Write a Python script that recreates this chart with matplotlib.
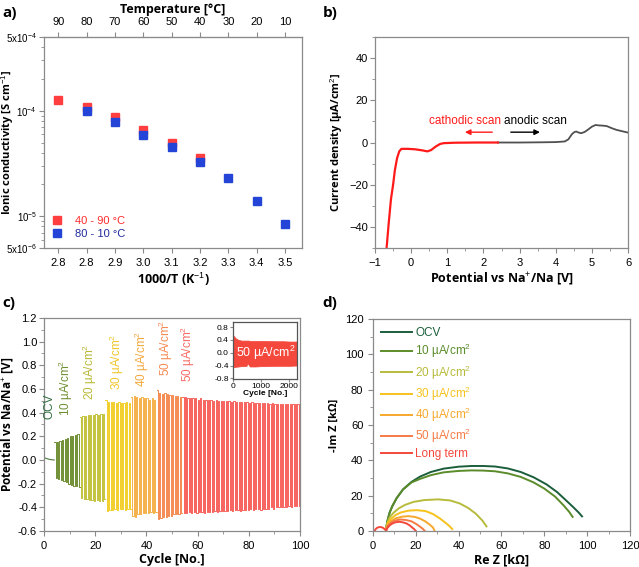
import numpy as np
import matplotlib.pyplot as plt
from matplotlib.ticker import MultipleLocator, NullFormatter, LogLocator

plt.rcParams['font.family'] = ['Liberation Sans', 'DejaVu Sans']
plt.rcParams['mathtext.fontset'] = 'custom'
plt.rcParams['mathtext.rm'] = 'Liberation Sans'
plt.rcParams['mathtext.bf'] = 'Liberation Sans:bold'
plt.rcParams['font.size'] = 8

############################################
# data
############################################
# a) ionic conductivity
a_xlabels = ['2.8', '2.8', '2.9', '3.0', '3.1', '3.2', '3.3', '3.4', '3.5']
a_temps = ['90', '80', '70', '60', '50', '40', '30', '20', '10']
heat_idx = [0, 1, 2, 3, 4, 5]
heat_sigma = [1.27e-4, 1.09e-4, 8.8e-5, 6.6e-5, 5.0e-5, 3.55e-5]
cool_idx = [1, 2, 3, 4, 5, 6, 7, 8]
cool_sigma = [1.0e-4, 7.8e-5, 5.9e-5, 4.5e-5, 3.25e-5, 2.3e-5, 1.39e-5, 8.4e-6]

# b) LSV
cat_E = [-0.68, -0.62, -0.56, -0.5, -0.45, -0.39, -0.33, -0.27, -0.1, 0.1, 0.3,
         0.45, 0.55, 0.68, 0.8, 0.9, 1.2, 1.8, 2.4]
cat_j = [-50, -38, -27, -20, -13, -7.4, -4.2, -3.0, -3.0, -3.2, -3.7,
         -4.2, -3.6, -1.9, -0.7, -0.3, -0.1, 0.0, 0.0]
ano_E = [2.4, 3.0, 3.6, 4.0, 4.25, 4.35, 4.45, 4.52, 4.57, 4.62, 4.7, 4.8,
         4.9, 5.0, 5.1, 5.2, 5.3, 5.41, 5.55, 5.68, 5.85, 6.0]
ano_j = [0.0, 0.0, 0.1, 0.2, 0.5, 1.5, 4.0, 5.0, 5.2, 4.8, 4.4, 5.0,
         6.2, 7.5, 8.3, 8.1, 8.0, 7.8, 6.8, 6.0, 5.3, 4.7]

# c) galvanostatic cycling, peak voltages per cycle
ocv_cyc = [0, 1, 2, 3, 4]
ocv_v = [0.02, 0.012, 0.006, 0.002, 0.0]
up_10 = [0.15, 0.15, 0.16, 0.17, 0.18, 0.19, 0.20, 0.20, 0.21, 0.22]
lo_10 = [-0.15, -0.16, -0.17, -0.18, -0.19, -0.20, -0.21, -0.22, -0.22, -0.23]
up_20 = [0.36, 0.37, 0.37, 0.38, 0.38, 0.38, 0.39, 0.38, 0.39, 0.39]
lo_20 = [-0.32, -0.33, -0.33, -0.34, -0.34, -0.35, -0.34, -0.35, -0.35, -0.33]
up_30 = [0.51, 0.49, 0.49, 0.49, 0.48, 0.49, 0.48, 0.48, 0.49, 0.48]
lo_30 = [-0.43, -0.42, -0.42, -0.41, -0.42, -0.41, -0.41, -0.42, -0.41, -0.41]
up_40 = [0.53, 0.54, 0.53, 0.52, 0.53, 0.52, 0.52, 0.51, 0.52, 0.51]
lo_40 = [-0.47, -0.48, -0.46, -0.46, -0.45, -0.45, -0.45, -0.44, -0.45, -0.44]
up_50 = [0.59, 0.57, 0.56, 0.57, 0.56, 0.55, 0.55, 0.54, 0.54, 0.53]
lo_50 = [-0.50, -0.49, -0.48, -0.48, -0.47, -0.47, -0.46, -0.46, -0.46, -0.45]
up_lt = [0.53, 0.53, 0.52, 0.52, 0.52, 0.52, 0.51, 0.52, 0.51, 0.51,
         0.51, 0.51, 0.50, 0.51, 0.50, 0.50, 0.50, 0.50, 0.50, 0.49,
         0.50, 0.49, 0.49, 0.49, 0.49, 0.49, 0.48, 0.49, 0.48, 0.48,
         0.48, 0.48, 0.48, 0.48, 0.47, 0.48, 0.47, 0.47, 0.47, 0.47,
         0.47, 0.47, 0.47, 0.47, 0.47, 0.47]
lo_lt = [-0.45, -0.45, -0.44, -0.45, -0.44, -0.45, -0.44, -0.44, -0.45, -0.44,
         -0.44, -0.44, -0.43, -0.44, -0.43, -0.43, -0.43, -0.43, -0.42, -0.43,
         -0.42, -0.42, -0.43, -0.42, -0.42, -0.42, -0.41, -0.42, -0.41, -0.41,
         -0.42, -0.41, -0.41, -0.41, -0.40, -0.41, -0.40, -0.40, -0.40, -0.40,
         -0.40, -0.39, -0.40, -0.39, -0.39, -0.39]
c_blocks = [(4, up_10, lo_10, '#6f8f34'),
            (14, up_20, lo_20, '#c4c23c'),
            (24, up_30, lo_30, '#f2cf2c'),
            (34, up_40, lo_40, '#f4b14a'),
            (44, up_50, lo_50, '#f58a52'),
            (54, up_lt, lo_lt, '#f7625c')]

# c) inset, long term envelope
ins_cyc = [0, 50, 100, 200, 300, 400, 480, 520, 560, 600, 800, 1000, 1200,
           1500, 1800, 2000, 2280]
ins_up = [0.55, 0.50, 0.45, 0.40, 0.38, 0.38, 0.38, 0.38, 0.38, 0.37, 0.37,
          0.37, 0.37, 0.36, 0.36, 0.35, 0.35]
ins_lo = [-0.45, -0.45, -0.44, -0.43, -0.42, -0.42, -0.41, -0.33, -0.38, -0.43,
          -0.43, -0.42, -0.42, -0.41, -0.41, -0.41, -0.40]

# d) EIS Nyquist
eis_labels = ['OCV', r'10 µA/cm$^2$', r'20 µA/cm$^2$', r'30 µA/cm$^2$',
              r'40 µA/cm$^2$', r'50 µA/cm$^2$', 'Long term']
eis_colors = ['#1b5e3b', '#5b8c2a', '#b7bb3b', '#f6c21c', '#f6a82c', '#f57b45', '#f4483c']
eis_re = [
    [6.2, 6.8, 7.8, 9.0, 11.0, 14.0, 18.0, 22.0, 27.0, 33.0, 40.0, 46.0, 51.4,
     57.0, 63.0, 69.0, 75.0, 81.0, 86.0, 90.0, 93.5, 96.0, 97.6],
    [6.2, 6.8, 7.8, 9.0, 11.0, 14.0, 18.0, 22.0, 27.0, 33.0, 40.0, 46.0, 51.4,
     57.0, 63.0, 69.0, 75.0, 80.0, 85.0, 89.0, 91.5, 93.2],
    [6.2, 6.8, 7.8, 9.5, 12.0, 15.0, 19.0, 24.0, 30.4, 36.0, 40.5, 44.5, 48.0, 51.0, 53.0],
    [6.2, 7.0, 8.5, 10.5, 13.0, 16.5, 20.3, 24.5, 28.0, 31.0, 33.5, 35.5, 37.0],
    [6.2, 7.0, 8.5, 10.5, 13.5, 16.4, 19.5, 22.0, 24.5, 26.5, 28.0, 28.8],
    [6.2, 7.0, 8.5, 10.1, 11.8, 13.2, 15.5, 17.9, 20.0, 21.8, 23.3, 24.2],
    [0.8, 1.2, 1.9, 2.8, 3.9, 4.8, 5.5, 6.2, 6.6, 7.8, 9.0, 10.1, 11.3, 12.5,
     14.0, 15.6, 17.0, 17.9, 19.2, 20.0],
]
eis_im = [
    [2.0, 6.0, 10.5, 14.0, 18.5, 23.5, 27.8, 30.8, 33.4, 35.3, 36.4, 36.8, 36.8,
     36.5, 35.4, 33.4, 30.4, 26.4, 22.0, 17.5, 13.5, 10.5, 8.3],
    [2.0, 6.0, 10.5, 14.0, 18.5, 23.5, 27.5, 29.5, 31.6, 33.2, 34.0, 34.3, 34.2,
     33.8, 32.6, 30.6, 27.5, 24.0, 19.5, 14.5, 11.0, 8.0],
    [2.0, 5.0, 7.8, 10.2, 12.8, 14.8, 16.5, 17.5, 17.9, 17.3, 15.6, 13.0, 9.8, 6.0, 2.6],
    [1.5, 4.5, 7.0, 9.0, 10.5, 11.5, 11.8, 11.3, 9.6, 7.3, 5.0, 3.0, 1.1],
    [1.0, 3.5, 5.6, 7.1, 8.1, 8.4, 8.0, 7.0, 5.4, 3.6, 2.0, 0.0],
    [1.0, 3.0, 4.8, 5.8, 6.3, 6.5, 6.2, 5.5, 4.1, 2.6, 1.2, 0.0],
    [0.0, 1.0, 1.8, 2.2, 2.2, 1.7, 1.0, 0.0, 1.5, 3.2, 4.2, 4.8, 5.1, 5.2,
     4.9, 4.3, 3.3, 2.4, 1.1, 0.0],
]

############################################
# helpers
############################################
spine_col = '#8a8a8a'
bold_family = ['Open Sans', 'DejaVu Sans']
label_font = dict(fontsize=9, fontweight='bold', family=bold_family)
ylab_font = dict(fontsize=8, fontweight='bold', family=bold_family)


def style_axes(ax):
    for s in ax.spines.values():
        s.set_color(spine_col)
        s.set_linewidth(0.9)
    ax.tick_params(which='both', direction='out', color=spine_col, labelsize=8)
    ax.tick_params(which='major', length=3.5)
    ax.tick_params(which='minor', length=2)


def square_wave(start, up, lo):
    xs, ys = [], []
    for i, (u, l) in enumerate(zip(up, lo)):
        x0 = start + i
        xs += [x0, x0 + 0.5, x0 + 0.5, x0 + 1]
        ys += [u, u, l, l]
    return xs, ys


fig = plt.figure(figsize=(6.39, 5.67), dpi=100)

############################################
# a) Arrhenius
############################################
ax_a = fig.add_axes([0.0689, 0.5626, 0.4037, 0.3721])
ax_a.plot(heat_idx, heat_sigma, 's', color='#ff3f3f', ms=5.5, label='40 - 90 °C')
ax_a.plot(cool_idx, cool_sigma, 's', color='#2344d6', ms=5.5, label='80 - 10 °C')
ax_a.set_yscale('log')
ax_a.set_ylim(5e-6, 5e-4)
ax_a.set_xlim(-0.5, 8.6)
ax_a.set_xticks(range(len(a_xlabels)))
ax_a.set_xticklabels(a_xlabels)
ax_a.set_yticks([5e-6, 1e-5, 1e-4, 5e-4])
ax_a.set_yticklabels([r'5x10$^{-6}$', r'10$^{-5}$', r'10$^{-4}$', r'5x10$^{-4}$'])
ax_a.yaxis.set_minor_locator(LogLocator(base=10, subs=np.arange(2, 10)))
ax_a.yaxis.set_minor_formatter(NullFormatter())
style_axes(ax_a)
ax_a.tick_params(axis='y', labelsize=7, pad=1.5)
top = ax_a.secondary_xaxis('top')
top.set_xticks(range(len(a_temps)))
top.set_xticklabels(a_temps)
top.tick_params(direction='out', color=spine_col, labelsize=8, length=3.5)
top.spines['top'].set_color(spine_col)
top.set_xlabel('Temperature [°C]', labelpad=3, **label_font)
ax_a.set_xlabel(r'1000/T (K$^{-1}$)', labelpad=2, **label_font)
ax_a.set_ylabel(r'Ionic conductivity [S cm$^{-1}$]', **ylab_font)
ax_a.yaxis.set_label_coords(-0.108, 0.5)
ax_a.legend(loc='lower left', frameon=False, fontsize=8, handlelength=0.8,
            handletextpad=1.2, labelspacing=0.25, borderaxespad=0.4,
            labelcolor=['#ff2a2a', '#1f2a9c'])

############################################
# b) LSV
############################################
ax_b = fig.add_axes([0.5869, 0.5626, 0.3959, 0.3721])
ax_b.plot(ano_E, ano_j, color='#505050', lw=1.3)
ax_b.plot(cat_E, cat_j, color='#ff1a1a', lw=1.6)
ax_b.set_xlim(-1, 6)
ax_b.set_ylim(-50, 50)
ax_b.xaxis.set_major_locator(MultipleLocator(1))
ax_b.xaxis.set_minor_locator(MultipleLocator(0.5))
ax_b.yaxis.set_major_locator(MultipleLocator(20))
ax_b.yaxis.set_minor_locator(MultipleLocator(10))
style_axes(ax_b)
ax_b.tick_params(axis='y', pad=1.5)
ax_b.annotate('', xy=(1.41, 4.9), xytext=(2.32, 4.9),
              arrowprops=dict(arrowstyle='-|>', color='#ff1a1a', lw=1, mutation_scale=8))
ax_b.annotate('', xy=(3.64, 4.9), xytext=(2.68, 4.9),
              arrowprops=dict(arrowstyle='-|>', color='black', lw=1, mutation_scale=8))
ax_b.text(1.48, 10.3, 'cathodic scan', color='#ff1a1a', fontsize=8.5, ha='center', va='center')
ax_b.text(3.44, 10.3, 'anodic scan', color='black', fontsize=8.5, ha='center', va='center')
ax_b.set_xlabel(r'Potential vs Na$^{+}$/Na [V]', labelpad=2, **label_font)
ax_b.set_ylabel(r'Current density [µA/cm$^{2}$]', **ylab_font)
ax_b.yaxis.set_label_coords(-0.12, 0.5)

############################################
# c) cycling
############################################
ax_c = fig.add_axes([0.0689, 0.0635, 0.4006, 0.3757])
ax_c.plot(ocv_cyc, ocv_v, color='#4f7a40', lw=0.8)
for start, up, lo, col in c_blocks:
    xs, ys = square_wave(start, up, lo)
    ax_c.plot(xs, ys, color=col, lw=0.7)
ax_c.set_xlim(0, 100)
ax_c.set_ylim(-0.6, 1.2)
ax_c.xaxis.set_major_locator(MultipleLocator(20))
ax_c.xaxis.set_minor_locator(MultipleLocator(10))
ax_c.yaxis.set_major_locator(MultipleLocator(0.2))
ax_c.yaxis.set_minor_locator(MultipleLocator(0.1))
ax_c.yaxis.set_major_formatter(lambda v, p: f'{v:.1f}')
style_axes(ax_c)
ax_c.tick_params(axis='y', pad=1.5)
c_notes = [(2.0, 0.35, 'OCV', '#2f6e3f'),
           (8.7, 0.37, r'10 µA/cm$^2$', '#6f8f34'),
           (17.9, 0.51, r'20 µA/cm$^2$', '#b9b835'),
           (28.3, 0.59, r'30 µA/cm$^2$', '#f0c62a'),
           (38.3, 0.62, r'40 µA/cm$^2$', '#f4a83e'),
           (47.5, 0.71, r'50 µA/cm$^2$', '#f58a52'),
           (56.3, 0.66, r'50 µA/cm$^2$', '#f76a64')]
for x, y, txt, col in c_notes:
    ax_c.text(x, y, txt, rotation=90, color=col, fontsize=8.5, ha='center', va='bottom')
ax_c.set_xlabel('Cycle [No.]', labelpad=2, **label_font)
ax_c.set_ylabel(r'Potential vs Na/Na$^{+}$ [V]', fontsize=8.5, fontweight='bold',
                family=bold_family)
ax_c.yaxis.set_label_coords(-0.112, 0.5)

# inset
ax_in = fig.add_axes([0.3646, 0.3316, 0.1002, 0.1005])
ax_in.fill_between(ins_cyc, ins_lo, ins_up, color='#f4483c', lw=0.5)
ax_in.set_xlim(0, 2280)
ax_in.set_ylim(-0.82, 0.96)
ax_in.set_xticks([0, 1000, 2000])
ax_in.set_yticks([-0.8, -0.4, 0.0, 0.4, 0.8])
ax_in.yaxis.set_major_formatter(lambda v, p: f'{v:.1f}')
style_axes(ax_in)
for s in ax_in.spines.values():
    s.set_color('#555555')
ax_in.tick_params(labelsize=6, length=2, pad=1)
ax_in.text(90, 0.0, r'50 µA/cm$^2$', color='white', fontsize=9, va='center', ha='left')
ax_in.set_xlabel('Cycle [No.]', fontsize=6, fontweight='bold', labelpad=0)

############################################
# d) EIS
############################################
ax_d = fig.add_axes([0.5837, 0.0635, 0.4022, 0.3739])
for re, im, lab, col in zip(eis_re, eis_im, eis_labels, eis_colors):
    ax_d.plot(re, im, color=col, lw=1.4, label=lab)
ax_d.set_xlim(0, 120)
ax_d.set_ylim(0, 120)
ax_d.xaxis.set_major_locator(MultipleLocator(20))
ax_d.xaxis.set_minor_locator(MultipleLocator(10))
ax_d.yaxis.set_major_locator(MultipleLocator(20))
ax_d.yaxis.set_minor_locator(MultipleLocator(10))
style_axes(ax_d)
ax_d.legend(loc='upper left', frameon=False, fontsize=8.5, handlelength=2.6,
            handletextpad=0.3, labelspacing=0.25, borderaxespad=0.3,
            labelcolor='linecolor')
ax_d.set_xlabel('Re Z [kΩ]', labelpad=2, **label_font)
ax_d.set_ylabel('-Im Z [kΩ]', **ylab_font)
ax_d.yaxis.set_label_coords(-0.128, 0.5)

# panel letters
for x, y, t in [(0.003, 0.977, 'a)'), (0.505, 0.977, 'b)'), (0.003, 0.465, 'c)'), (0.505, 0.465, 'd)')]:
    fig.text(x, y, t, fontsize=11, fontweight='bold', va='center', family=bold_family)

fig.savefig('out.png', dpi=100)
